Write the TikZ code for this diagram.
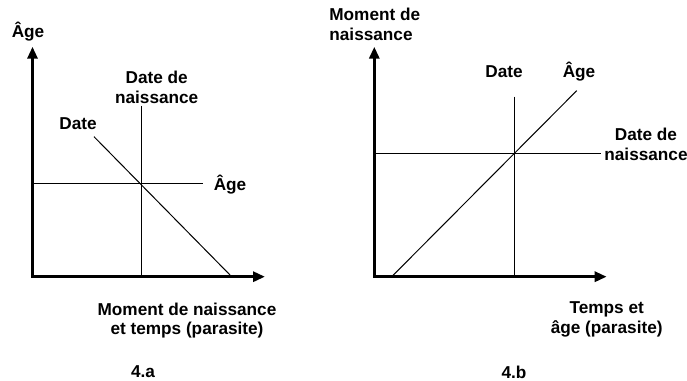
\documentclass[tikz,border=0pt]{standalone}
\usepackage{fontspec}
\setmainfont{Liberation Sans}
\usetikzlibrary{arrows.meta}

\begin{document}
\begin{tikzpicture}[x=0.5pt, y=0.5pt, every node/.style={font=\fontsize{8.6}{9.9}\selectfont\bfseries, align=center, inner sep=0pt}, >={Triangle[length=6pt,width=5pt]}, axis/.style={line width=1.5pt, <->}, trace/.style={line width=0.5pt}]
	\useasboundingbox (0,0) rectangle (687,381);
	% 4.a
	\coordinate (oa) at (32.5,104.3);
	\coordinate (ya) at (32.5,334.3);
	\coordinate (xa) at (265,104.3);
	\coordinate (va) at (141.7,275);
	\coordinate (ha) at (202.7,197);
	\coordinate (da) at (94,244.3);
	\coordinate (ea) at (231.7,104.3);
	\draw[trace] (va) -- (va |- oa);
	\draw[trace] (oa |- ha) -- (ha);
	\draw[trace] (da) -- (ea);
	\draw[axis] (ya) |- (xa);
	\node (agea) at (28,349.3) {Âge};
	\node (naisa) at (156.7,294) {Date de\\naissance};
	\node (datea) at (78,257) {Date};
	\node (ageb) at (230,196) {Âge};
	\node (tempsa) at (187,60.5) {Moment de naissance\\et temps (parasite)};
	\node (figa) at (143,9) {4.a};
	% 4.b
	\coordinate (ob) at (374.3,104.3);
	\coordinate (yb) at (374.3,334.3);
	\coordinate (xb) at (606.7,104.3);
	\coordinate (vb) at (514,284.3);
	\coordinate (hb) at (601,227.7);
	\coordinate (db) at (391.7,104.3);
	\coordinate (eb) at (576.7,290.3);
	\draw[trace] (vb) -- (vb |- ob);
	\draw[trace] (ob |- hb) -- (hb);
	\draw[trace] (db) -- (eb);
	\draw[axis] (yb) |- (xb);
	\node[anchor=west, align=left] (momb) at (329,357) {Moment de\\naissance};
	\node (dateb) at (504,309.3) {Date};
	\node (agec) at (579,309) {Âge};
	\node (naisb) at (646,237) {Date de\\naissance};
	\node (tempsb) at (606.7,61.5) {Temps et\\âge (parasite)};
	\node (figb) at (514,9) {4.b};
\end{tikzpicture}
\end{document}
